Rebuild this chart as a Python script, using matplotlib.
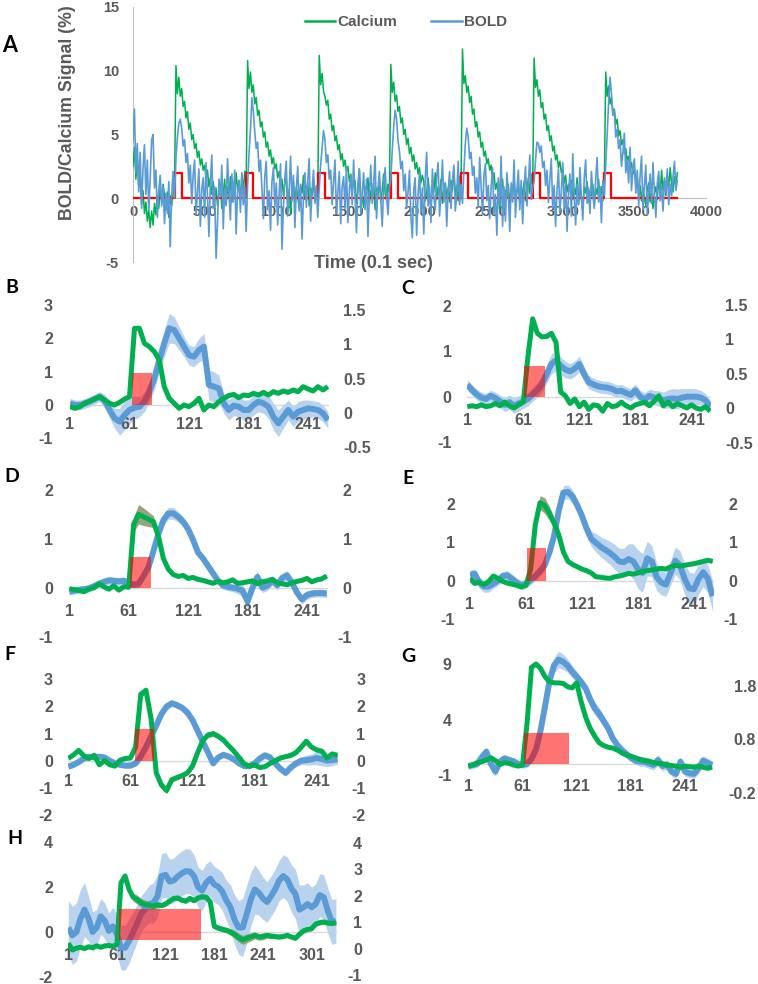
import numpy as np
import matplotlib
matplotlib.use("Agg")
import matplotlib.pyplot as plt
from matplotlib.patches import Rectangle
from matplotlib.lines import Line2D
from matplotlib.ticker import FuncFormatter

plt.rcParams['axes.unicode_minus'] = False
plt.rcParams['font.weight'] = 'bold'
ARIAL = ['Liberation Sans', 'DejaVu Sans']
LETTER = ['Lato', 'DejaVu Sans']
plt.rcParams['font.family'] = ARIAL

GREEN = '#00B050'
BLUE = '#5B9BD5'
BAND_BLUE = '#B9D3EE'
BAND_GREEN = '#8C9970'
RED = '#FF0000'
GRAY_TXT = '#595959'

# ---------------- Panel A data (sampled every 10 x 0.1 s) ----------------
a_time_step = 10
a_calcium = [
    2.5, 4.0, 1.5, 3.2, 0.8, 1.9, -0.5, 0.6, -1.2, -0.3,
    -1.8, -0.9, -2.3, -1.0, -2.1, -0.4, -1.3, 0.2, -0.8, 0.9,
    -0.2, 1.1, 0.3, -0.9, 0.5, -1.5, 0.2, -0.6, 0.4, 0.9,
    10.4, 8.2, 9.5, 8.0, 8.6, 7.2, 7.6, 6.3, 6.8, 5.4,
    5.9, 4.6, 5.0, 3.9, 4.3, 3.2, 3.7, 2.6, 3.1, 2.2,
    2.6, 1.5, 2.2, 0.9, 1.6, 0.3, 1.3, -0.2, 0.8, -0.6,
    0.4, 1.0, -0.8, 0.4, 1.5, -0.5, 0.9, 0.1, 1.7, -0.3,
    1.2, 0.4, 2.0, 0.6, 1.4, -0.2, 1.9, 0.5, 2.1, 1.0,
    10.8, 8.6, 9.9, 8.3, 8.9, 7.4, 7.9, 6.5, 6.9, 5.6,
    6.0, 4.8, 5.2, 4.0, 4.4, 3.3, 3.8, 2.7, 3.2, 2.3,
    2.7, 1.6, 2.1, 0.8, 1.5, 0.2, 1.2, 1.6, -0.5, 0.7,
    -1.2, 0.5, 1.3, -0.3, 0.9, 0.1, -0.8, 1.0, 0.4, 1.8,
    -0.1, 0.6, 1.2, -0.6, 0.8, 0.2, 1.5, -0.2, 0.9, 0.3,
    11.2, 8.9, 9.8, 8.4, 8.0, 7.3, 7.7, 6.2, 6.6, 5.3,
    5.7, 4.5, 4.9, 3.8, 4.2, 3.0, 3.5, 2.5, 3.0, 2.1,
    2.5, 1.3, 1.9, 0.6, 1.2, 1.4, -0.4, 0.5, 2.3, 0.1,
    0.1, -0.7, 0.9, 0.3, 1.6, -0.5, 0.6, 0.0, 1.2, -0.9,
    0.8, 0.2, 1.5, -0.3, 0.7, 1.9, 0.4, -0.2, 1.1, 0.5,
    10.5, 8.3, 9.1, 7.6, 8.1, 6.8, 7.2, 5.9, 6.3, 5.0,
    5.4, 4.2, 4.7, 3.5, 4.0, 2.9, 3.4, 2.3, 2.8, 1.9,
    2.4, 1.2, 1.8, 1.3, -0.2, 0.4, 1.6, 0.2, -0.6, 1.1,
    0.5, 2.0, -0.1, 0.9, 0.3, 1.5, -0.4, 0.7, 1.2, 0.1,
    0.8, -0.3, 1.4, 0.6, 2.2, 0.2, 1.0, -0.2, 1.7, 0.9,
    11.7, 9.0, 9.6, 8.3, 8.8, 7.5, 8.0, 6.6, 7.0, 5.6,
    6.0, 4.8, 5.2, 4.0, 4.4, 3.3, 3.7, 2.7, 3.1, 2.2,
    2.6, 1.4, 2.0, 0.7, 1.2, 0.1, -0.9, 0.7, 1.5, -0.3,
    0.6, 0.0, 1.1, -0.5, 0.8, 0.3, 1.7, -0.1, 0.5, 1.0,
    -0.4, 0.9, 0.2, 1.3, -0.2, 0.7, 1.6, 0.4, 1.9, 0.8,
    11.0, 8.7, 9.3, 8.0, 8.5, 7.1, 7.5, 6.2, 6.6, 5.3,
    5.7, 4.5, 4.9, 3.7, 4.1, 3.0, 3.4, 2.4, 2.9, 2.0,
    2.4, 1.2, 1.8, 0.5, 1.1, 0.6, 1.4, -0.1, 0.8, 0.3,
    1.6, -0.5, 0.7, 0.1, -0.9, 0.9, 0.4, 1.3, -0.3, 0.6,
    0.2, 1.1, -0.6, 0.8, 0.3, 1.5, 0.0, 0.9, -0.2, 1.0,
    9.9, 8.0, 8.8, 7.4, 7.9, 6.6, 7.0, 5.8, 6.2, 4.9,
    5.3, 4.2, 4.6, 3.5, 3.9, 2.9, 3.3, 2.3, 2.8, 1.9,
    2.3, 1.1, 1.7, 0.4, 1.0, -0.2, 0.8, 0.1, -0.6, 0.7,
    1.2, -0.3, 0.5, -0.8, 0.4, 0.9, -0.1, 1.5, 0.3, 2.2,
    0.6, 1.4, 0.2, 1.8, 0.9, 2.4, 1.1, 0.5, 1.7, 1.0,
    2.0,
]
a_bold = [
    4.5, 7.0, 2.0, 4.3, 0.5, 3.6, -0.8, 2.4, 4.2, 0.3,
    3.0, -1.0, 1.5, 4.6, 5.0, 0.8, 2.2, -1.5, 0.6, 1.8,
    -0.6, 0.9, -2.0, 0.4, -1.2, 1.3, -3.8, 0.2, 2.1, 0.0,
    3.2, 4.8, 5.9, 6.2, 5.5, 4.1, 4.6, 2.8, 3.5, 1.2,
    2.6, -0.4, 1.8, 3.0, -1.3, 0.5, 2.3, -2.2, 0.7, 1.6,
    -1.5, 2.8, 0.2, -3.0, 1.2, 3.4, -0.8, 0.9, -4.7, -1.9,
    1.5, 0.1, 2.6, -2.4, 0.8, -0.6, 3.1, 0.4, -1.7, 1.9,
    -0.3, 2.2, -2.8, 0.5, 1.4, -1.1, 2.0, -0.5, 0.9, -2.6,
    1.0, 3.5, 5.4, 7.9, 6.8, 5.2, 3.9, 4.4, 2.1, 3.0,
    0.8, -1.6, 1.7, 2.9, -0.9, 0.6, -2.5, 1.3, 2.4, -0.7,
    1.2, -2.1, 0.3, 2.7, -4.0, -0.8, 1.6, 2.9, -1.4, 0.5,
    3.3, -0.2, 1.8, -2.3, 0.7, 2.5, -1.0, 1.1, -3.2, 0.2,
    2.0, -0.7, 1.4, 3.1, -1.8, 0.6, 2.2, -0.4, 1.0, -1.5,
    0.8, 2.6, 3.9, 5.3, 4.6, 2.8, 3.4, 1.5, 2.2, -0.5,
    1.3, 3.0, -1.2, 0.4, 2.1, -2.0, 0.9, 1.7, -0.8, 2.4,
    -1.9, 0.6, 1.8, -0.5, 3.0, 0.2, -2.7, 1.1, 2.3, -1.2,
    0.4, 2.0, -0.9, 1.5, -3.0, 0.3, 2.6, -0.4, 1.2, 3.3,
    -1.6, 0.7, 2.1, -0.2, -2.2, 1.0, 2.4, 0.1, -1.3, 0.8,
    1.5, 3.8, 5.6, 6.9, 6.2, 4.5, 3.7, 2.3, 2.9, 0.6,
    1.9, -0.8, 0.5, 2.2, -1.5, -3.1, 0.7, 1.6, -2.9, 0.3,
    2.0, -1.1, 0.8, -2.8, 1.5, 3.6, -0.6, 0.9, -1.9, 2.3,
    0.1, -0.9, 1.7, 2.8, -1.4, 0.5, 3.0, -0.3, 1.2, -2.2,
    0.6, 2.1, -0.8, 1.4, 2.6, -1.0, 0.3, 2.9, -0.5, 1.1,
    -0.4, 2.2, 4.3, 5.5, 4.8, 3.1, 3.6, 1.8, 2.5, 0.4,
    1.6, -0.7, 3.2, 0.9, -1.3, 1.8, 2.7, -0.2, 1.0, -1.6,
    0.8, 2.4, -1.2, 0.3, -2.9, 1.6, -0.5, 3.3, -2.2, 0.9,
    -1.8, 2.0, 0.4, -2.6, 1.2, -0.3, 3.0, -1.5, 0.6, 2.2,
    -0.9, 1.4, -2.0, 0.7, 2.5, -0.6, 1.1, 3.4, -0.1, 0.9,
    1.3, 3.0, 4.4, 4.3, 3.6, 4.1, 2.4, 2.9, 1.0, 2.2,
    -0.3, 1.5, 3.1, -0.8, 1.0, -2.2, 0.6, 2.3, -1.1, 0.5,
    2.8, -0.9, 1.3, -2.6, 0.4, 1.9, -1.4, 3.5, 0.2, -2.1,
    1.1, -0.5, 2.4, 0.1, -1.7, 1.6, 3.0, -0.4, 0.8, -1.2,
    2.1, 0.3, -0.8, 1.5, 3.2, -0.3, 0.9, -1.9, 1.4, 0.2,
    2.6, 5.0, 7.4, 9.5, 8.2, 6.5, 6.9, 4.8, 5.4, 3.9,
    4.6, 2.5, 3.6, 5.1, 2.0, 3.0, 1.2, 4.0, 0.6, 2.4,
    3.1, 0.4, 2.2, -0.6, 1.8, 3.3, -0.9, 1.0, 2.6, -1.3,
    0.5, 1.9, -0.4, 2.8, 0.3, -1.5, 1.2, 2.1, -0.2, 0.9,
    -1.0, 1.6, 0.4, 2.3, -0.5, 1.1, 0.2, 1.7, 2.9, 0.6,
    1.4,
]
a_stim_onsets = [290, 790, 1290, 1800, 2290, 2790, 3290]
a_stim_duration = 50
a_stim_height = 2
a_stim_end = 3800
a_xticks = [0, 500, 1000, 1500, 2000, 2500, 3000, 3500, 4000]
a_yticks = [-5, 0, 5, 10, 15]
a_legend_labels = ['Calcium', 'BOLD']

# ---------------- Panels B-H data (sampled every 5 frames from frame 1) ----------------
first_sample = 1
sample_step = 5

b_calcium = [-0.05, -0.1, -0.05, 0.05, 0.12, 0.18, 0.25, 0.15, 0.05, 0.0,
             0.08, 0.18, 0.25, 2.3, 2.3, 1.85, 1.75, 1.6, 1.35, 0.55,
             0.2, 0.05, -0.1, 0.0, -0.05, 0.05, 0.2, -0.15, 0.0, -0.05,
             0.1, 0.2, 0.28, 0.32, 0.22, 0.3, 0.28, 0.35, 0.3, 0.38,
             0.3, 0.4, 0.35, 0.42, 0.38, 0.45, 0.4, 0.55, 0.48, 0.42,
             0.55, 0.45, 0.55]
b_bold = [0.05, 0.0, 0.0, 0.05, 0.1, 0.18, 0.25, 0.12, -0.15, -0.4,
          -0.5, -0.3, -0.15, -0.08, -0.05, 0.1, 0.4, 0.8, 1.35, 1.85,
          2.3, 2.25, 2.0, 1.75, 1.5, 1.45, 1.65, 1.75, 0.6, 0.55,
          0.5, 0.05, -0.15, -0.02, -0.05, -0.15, -0.15, 0.0, 0.1, 0.05,
          -0.05, -0.35, -0.55, -0.35, -0.15, -0.35, -0.2, -0.15, -0.1, -0.12,
          -0.15, -0.25, -0.45]
b_bold_sem = [0.15, 0.15, 0.15, 0.15, 0.15, 0.15, 0.15, 0.2, 0.25, 0.3,
              0.4, 0.45, 0.4, 0.35, 0.3, 0.3, 0.3, 0.35, 0.35, 0.4,
              0.45, 0.4, 0.35, 0.3, 0.3, 0.3, 0.35, 0.4, 0.45, 0.45,
              0.4, 0.3, 0.3, 0.3, 0.3, 0.3, 0.3, 0.3, 0.3, 0.3,
              0.35, 0.4, 0.4, 0.35, 0.3, 0.3, 0.3, 0.3, 0.25, 0.25,
              0.25, 0.25, 0.25]
b_calcium_sem = None
b_stim = (63, 84, 0, 0.95)
b_left_ticks = [-1, 0, 1, 2, 3]
b_right_ticks = [-0.5, 0, 0.5, 1, 1.5]

c_calcium = [-0.22, -0.2, -0.22, -0.18, -0.22, -0.2, -0.15, -0.2, -0.12, -0.2,
             -0.25, -0.18, -0.12, 0.9, 1.72, 1.4, 1.32, 1.33, 1.4, 1.2,
             0.1, 0.02, -0.15, -0.05, -0.22, -0.12, -0.28, -0.18, -0.2, -0.32,
             -0.15, -0.22, -0.2, -0.12, -0.2, -0.25, -0.18, -0.15, -0.12, -0.2,
             -0.1, 0.02, -0.2, -0.12, -0.22, -0.15, -0.2, -0.25, -0.18, -0.25,
             -0.28, -0.22, -0.32]
c_bold = [0.26, 0.15, 0.05, -0.02, -0.05, 0.02, -0.03, -0.1, -0.18, -0.12,
          -0.2, -0.15, -0.1, -0.05, 0.05, 0.15, 0.28, 0.5, 0.72, 0.8,
          0.68, 0.6, 0.56, 0.62, 0.72, 0.5, 0.32, 0.27, 0.23, 0.21,
          0.2, 0.17, 0.12, 0.13, 0.08, 0.04, 0.14, 0.0, -0.06, 0.02,
          -0.02, -0.04, -0.08, -0.05, -0.04, -0.05, -0.02, 0.0, 0.0, 0.0,
          -0.02, -0.08, -0.22]
c_bold_sem = [0.12, 0.12, 0.12, 0.12, 0.12, 0.12, 0.13, 0.14, 0.15, 0.16,
              0.17, 0.17, 0.16, 0.15, 0.15, 0.16, 0.18, 0.2, 0.22, 0.22,
              0.2, 0.18, 0.17, 0.17, 0.17, 0.16, 0.15, 0.14, 0.14, 0.14,
              0.14, 0.14, 0.14, 0.14, 0.14, 0.14, 0.14, 0.14, 0.15, 0.15,
              0.16, 0.17, 0.18, 0.2, 0.22, 0.22, 0.2, 0.18, 0.18, 0.17,
              0.16, 0.15, 0.15]
c_calcium_sem = None
c_stim = (62, 84, 0, 0.67)
c_left_ticks = [-1, 0, 1, 2]
c_right_ticks = [-0.5, 0, 0.5, 1, 1.5]

d_calcium = [-0.02, -0.04, -0.06, -0.08, -0.03, 0.0, 0.08, 0.02, -0.03, 0.04,
             -0.05, 0.02, 0.01, 1.3, 1.5, 1.45, 1.4, 1.35, 1.05, 0.6,
             0.38, 0.27, 0.23, 0.25, 0.19, 0.21, 0.17, 0.15, 0.12, 0.09,
             0.13, 0.1, 0.12, 0.16, 0.09, 0.1, 0.12, 0.14, 0.08, 0.12,
             0.14, 0.17, 0.1, 0.08, 0.06, 0.1, 0.13, 0.15, 0.19, 0.12,
             0.16, 0.18, 0.24]
d_calcium_sem = [0.03, 0.03, 0.03, 0.03, 0.03, 0.03, 0.03, 0.03, 0.03, 0.03,
                 0.03, 0.03, 0.03, 0.15, 0.2, 0.18, 0.15, 0.12, 0.08, 0.05,
                 0.03, 0.03, 0.03, 0.03, 0.03, 0.03, 0.03, 0.03, 0.03, 0.03,
                 0.03, 0.03, 0.03, 0.03, 0.03, 0.03, 0.03, 0.03, 0.03, 0.03,
                 0.03, 0.03, 0.03, 0.03, 0.03, 0.03, 0.03, 0.03, 0.03, 0.03,
                 0.03, 0.03, 0.03]
d_bold = [-0.08, -0.06, -0.04, -0.03, -0.01, 0.03, 0.08, 0.12, 0.15, 0.14,
          0.13, 0.14, 0.1, 0.06, 0.08, 0.24, 0.42, 0.75, 1.1, 1.38,
          1.52, 1.52, 1.45, 1.35, 1.2, 0.98, 0.72, 0.6, 0.45, 0.3,
          0.15, 0.05, 0.02, 0.0, -0.02, -0.06, -0.28, 0.0, 0.22, 0.0,
          0.04, 0.15, 0.05, 0.2, 0.25, 0.1, -0.1, -0.24, -0.15, -0.12,
          -0.11, -0.11, -0.12]
d_bold_sem = [0.07, 0.07, 0.07, 0.07, 0.07, 0.07, 0.07, 0.08, 0.08, 0.08,
              0.08, 0.08, 0.08, 0.08, 0.08, 0.08, 0.09, 0.1, 0.1, 0.11,
              0.12, 0.12, 0.11, 0.1, 0.1, 0.1, 0.09, 0.09, 0.09, 0.08,
              0.08, 0.08, 0.08, 0.08, 0.1, 0.12, 0.15, 0.15, 0.12, 0.1,
              0.1, 0.1, 0.1, 0.1, 0.1, 0.1, 0.1, 0.1, 0.09, 0.08,
              0.08, 0.08, 0.08]
d_stim = (62, 84, 0, 0.63)
d_left_ticks = [-1, 0, 1, 2]
d_right_ticks = [-1, 0, 1, 2]

e_calcium = [0.06, -0.07, -0.04, -0.1, -0.02, 0.12, 0.06, -0.02, -0.06, -0.09,
             -0.12, -0.16, -0.12, 0.3, 1.45, 2.02, 1.95, 1.75, 1.5, 1.2,
             0.75, 0.5, 0.42, 0.36, 0.3, 0.26, 0.2, 0.1, 0.09, 0.07,
             0.06, 0.1, 0.12, 0.15, 0.19, 0.17, 0.2, 0.24, 0.26, 0.28,
             0.3, 0.32, 0.3, 0.36, 0.4, 0.38, 0.4, 0.42, 0.44, 0.47,
             0.5, 0.53, 0.5]
e_calcium_sem = [0.03, 0.03, 0.03, 0.03, 0.03, 0.03, 0.03, 0.03, 0.03, 0.03,
                 0.03, 0.03, 0.03, 0.05, 0.08, 0.18, 0.2, 0.18, 0.14, 0.08,
                 0.05, 0.03, 0.03, 0.03, 0.03, 0.03, 0.03, 0.03, 0.03, 0.03,
                 0.03, 0.03, 0.03, 0.03, 0.03, 0.03, 0.03, 0.03, 0.03, 0.03,
                 0.03, 0.03, 0.03, 0.03, 0.03, 0.03, 0.03, 0.03, 0.03, 0.03,
                 0.03, 0.03, 0.03]
e_bold = [0.15, 0.18, -0.05, -0.15, -0.15, -0.08, 0.0, 0.12, 0.14, 0.05,
          -0.05, -0.12, -0.08, 0.02, 0.12, 0.25, 0.4, 0.72, 1.15, 1.8,
          2.28, 2.3, 2.18, 1.95, 1.68, 1.35, 1.08, 0.98, 0.88, 0.8,
          0.72, 0.62, 0.5, 0.48, 0.56, 0.5, 0.3, 0.2, 0.58, 0.5,
          0.1, -0.05, -0.1, 0.2, 0.52, 0.4, 0.05, -0.2, -0.22, 0.05,
          0.22, 0.05, -0.4]
e_bold_sem = [0.12, 0.12, 0.15, 0.15, 0.15, 0.12, 0.12, 0.12, 0.12, 0.12,
              0.12, 0.12, 0.12, 0.12, 0.12, 0.13, 0.14, 0.15, 0.15, 0.16,
              0.18, 0.18, 0.17, 0.16, 0.15, 0.15, 0.2, 0.24, 0.26, 0.28,
              0.3, 0.32, 0.34, 0.36, 0.4, 0.45, 0.5, 0.5, 0.45, 0.4,
              0.35, 0.32, 0.3, 0.32, 0.35, 0.38, 0.4, 0.42, 0.42, 0.4,
              0.38, 0.36, 0.4]
e_stim = (62, 82, 0, 0.84)
e_left_ticks = [-1, 0, 1, 2]
e_right_ticks = [-1, 0, 1, 2]

f_calcium = [0.09, 0.21, 0.38, 0.18, 0.08, 0.2, -0.15, 0.0, -0.15, -0.2,
             0.02, 0.08, 0.1, 0.5, 2.45, 2.6, 1.55, -0.45, -0.9, -1.1,
             -0.7, -0.62, -0.55, -0.45, -0.2, 0.3, 0.75, 0.95, 1.0, 0.9,
             0.76, 0.55, 0.35, 0.12, -0.12, -0.2, -0.16, -0.25, -0.22, -0.1,
             0.0, 0.1, 0.15, 0.2, 0.3, 0.5, 0.72, 0.5, 0.4, 0.35,
             0.1, 0.25, 0.2]
f_calcium_sem = [0.06, 0.06, 0.06, 0.06, 0.06, 0.06, 0.06, 0.06, 0.06, 0.06,
                 0.06, 0.06, 0.06, 0.08, 0.12, 0.12, 0.1, 0.1, 0.12, 0.12,
                 0.1, 0.08, 0.08, 0.08, 0.08, 0.08, 0.08, 0.1, 0.1, 0.1,
                 0.08, 0.08, 0.06, 0.06, 0.06, 0.06, 0.06, 0.06, 0.06, 0.06,
                 0.06, 0.06, 0.06, 0.08, 0.08, 0.1, 0.1, 0.08, 0.08, 0.06,
                 0.06, 0.06, 0.06]
f_bold = [-0.22, -0.15, -0.05, 0.08, 0.15, 0.13, 0.15, 0.12, 0.0, -0.1,
          -0.15, -0.18, -0.18, -0.1, 0.15, 0.5, 0.9, 1.3, 1.72, 2.0,
          2.12, 2.05, 1.95, 1.78, 1.5, 1.1, 0.7, 0.3, -0.1, 0.12,
          0.22, 0.15, 0.05, -0.1, -0.2, -0.2, -0.1, 0.08, 0.2, 0.12,
          -0.1, -0.3, -0.45, -0.25, -0.1, 0.0, 0.02, 0.05, 0.1, 0.06,
          0.0, 0.02, 0.05]
f_bold_sem = [0.1, 0.1, 0.1, 0.1, 0.1, 0.1, 0.1, 0.1, 0.1, 0.1,
              0.1, 0.1, 0.1, 0.1, 0.1, 0.1, 0.1, 0.1, 0.12, 0.12,
              0.12, 0.12, 0.12, 0.1, 0.1, 0.1, 0.1, 0.1, 0.1, 0.1,
              0.1, 0.1, 0.1, 0.1, 0.1, 0.1, 0.1, 0.12, 0.12, 0.12,
              0.12, 0.12, 0.12, 0.12, 0.12, 0.15, 0.18, 0.2, 0.25, 0.25,
              0.22, 0.2, 0.18]
f_stim = (65, 84, 0, 1.16)
f_left_ticks = [-2, -1, 0, 1, 2, 3]
f_right_ticks = [-2, -1, 0, 1, 2, 3]

g_calcium = [-0.2, -0.1, 0.1, 0.2, 0.35, 0.55, 0.3, -0.05, 0.1, 0.05,
             -0.1, -0.2, -0.1, 3.6, 8.7, 9.0, 8.6, 7.85, 7.4, 7.3,
             7.3, 7.25, 6.95, 6.85, 7.3, 5.6, 4.2, 3.2, 2.5, 1.9,
             1.65, 1.5, 1.42, 1.25, 1.0, 0.8, 0.7, 0.55, 0.42, 0.3,
             0.25, 0.12, 0.05, 0.0, -0.1, -0.15, -0.2, -0.3, -0.2, -0.25,
             -0.3, -0.2, -0.3, -0.4, -0.3]
g_calcium_sem = None
g_bold = [-0.2, -0.1, 0.0, 0.6, 1.1, 0.0, -0.7, 0.2, 0.5, 0.35,
          0.25, 0.0, -0.1, 0.0, 0.45, 1.3, 3.0, 5.2, 7.5, 8.9,
          9.4, 9.2, 8.85, 8.3, 7.85, 7.35, 6.8, 5.8, 5.0, 4.5,
          3.85, 3.2, 2.3, 1.7, 1.25, 0.9, 0.55, 0.3, 0.2, 0.2,
          0.05, -0.1, 0.35, -0.2, -0.05, -0.7, -0.9, 0.2, -0.7, -0.85,
          -0.9, -0.4, 0.3, 0.1, -0.1]
g_bold_sem = [0.3, 0.3, 0.3, 0.35, 0.4, 0.4, 0.4, 0.35, 0.35, 0.35,
              0.3, 0.3, 0.3, 0.3, 0.3, 0.35, 0.4, 0.5, 0.6, 0.7,
              0.75, 0.7, 0.6, 0.55, 0.5, 0.5, 0.5, 0.55, 0.6, 0.55,
              0.5, 0.45, 0.4, 0.4, 0.35, 0.35, 0.35, 0.35, 0.4, 0.45,
              0.45, 0.45, 0.5, 0.45, 0.4, 0.4, 0.4, 0.4, 0.4, 0.4,
              0.4, 0.45, 0.45, 0.4, 0.35]
g_stim = (63, 112, 0, 2.75)
g_left_ticks = [-1, 4, 9]
g_right_ticks = [-0.2, 0.8, 1.8]

h_calcium = [-0.5, -0.8, -0.72, -0.68, -0.74, -0.66, -0.7, -0.62, -0.68, -0.62,
             -0.6, -0.64, -0.55, 2.2, 2.5, 1.9, 1.55, 1.45, 1.3, 1.22,
             1.2, 1.15, 1.22, 1.18, 1.25, 1.38, 1.5, 1.52, 1.42, 1.38,
             1.5, 1.4, 1.52, 1.58, 1.55, 1.35, 0.25, 0.18, 0.12, 0.08,
             0.0, -0.1, -0.25, -0.35, -0.28, -0.22, -0.15, -0.22, -0.2, -0.15,
             -0.18, -0.2, -0.22, -0.2, -0.15, -0.22, -0.28, -0.1, 0.05, 0.12,
             0.15, 0.35, 0.42, 0.45, 0.4, 0.38, 0.42]
h_calcium_sem = [0.08, 0.08, 0.08, 0.08, 0.08, 0.08, 0.08, 0.08, 0.08, 0.08,
                 0.08, 0.08, 0.08, 0.1, 0.12, 0.15, 0.18, 0.2, 0.2, 0.2,
                 0.18, 0.15, 0.12, 0.1, 0.1, 0.1, 0.1, 0.1, 0.1, 0.1,
                 0.1, 0.1, 0.1, 0.1, 0.1, 0.1, 0.12, 0.12, 0.12, 0.12,
                 0.15, 0.18, 0.2, 0.2, 0.2, 0.18, 0.15, 0.15, 0.15, 0.12,
                 0.12, 0.1, 0.1, 0.1, 0.1, 0.1, 0.1, 0.1, 0.1, 0.1,
                 0.1, 0.1, 0.1, 0.1, 0.1, 0.1, 0.1]
h_bold = [0.2, -0.15, 0.0, 0.6, 1.0, 0.6, 0.0, 0.2, 0.7, 0.5,
          0.05, 0.25, -0.1, -0.7, -0.7, -0.4, 0.0, 0.4, 0.82, 1.05,
          1.25, 1.3, 1.6, 2.5, 2.55, 2.25, 2.3, 2.48, 2.62, 2.72,
          2.7, 2.5, 2.0, 1.85, 2.2, 2.38, 2.12, 2.02, 1.8, 1.4,
          1.1, 0.55, 0.2, 0.2, 0.8, 1.45, 1.9, 1.75, 1.5, 1.34,
          1.6, 1.9, 2.3, 2.5, 2.35, 1.95, 1.7, 1.0, 1.1, 1.25,
          1.1, 1.25, 1.65, 1.55, 0.95, 0.45, 0.5]
h_bold_sem = [1.2, 1.3, 1.3, 1.3, 1.2, 1.0, 0.9, 0.8, 0.8, 0.8,
              0.8, 0.85, 0.9, 1.0, 1.0, 1.0, 0.9, 0.85, 0.8, 0.8,
              0.85, 0.9, 0.95, 1.0, 1.0, 1.0, 1.0, 1.0, 1.0, 1.0,
              1.0, 0.95, 0.9, 0.9, 0.85, 0.8, 0.8, 0.8, 0.85, 0.9,
              1.0, 1.1, 1.2, 1.3, 1.3, 1.2, 1.1, 1.0, 0.95, 0.9,
              0.9, 0.9, 0.9, 0.95, 1.0, 1.05, 1.1, 1.1, 1.0, 0.95,
              0.9, 0.9, 0.95, 1.0, 1.0, 1.0, 1.0]
h_stim = (63, 165, -0.34, 1.04)
h_left_ticks = [-2, 0, 2, 4]
h_right_ticks = [-1, 0, 1, 2, 3, 4]

panel_xticks = [1, 61, 121, 181, 241]
h_xticks = [1, 61, 121, 181, 241, 301]

# ---------------- layout (pixels of the 758 x 984 canvas) ----------------
W, H = 758, 984
PT = 72.0 / 100.0

fig = plt.figure(figsize=(W / 100, H / 100), dpi=100)
fig.patch.set_facecolor('white')


def frect(left, right, top, bottom):
    return [left / W, 1 - bottom / H, (right - left) / W, (bottom - top) / H]


def fmt_g(v, pos=None):
    v = round(v, 3) + 0.0
    return f'{v:g}'


# ---------------- Panel A ----------------
axA = fig.add_axes(frect(133, 706, 7, 262))
tA = np.arange(len(a_calcium)) * a_time_step
stim_x = [0]
stim_y = [0]
for on in a_stim_onsets:
    stim_x += [on, on, on + a_stim_duration, on + a_stim_duration]
    stim_y += [0, a_stim_height, a_stim_height, 0]
stim_x.append(a_stim_end)
stim_y.append(0)

axA.plot(tA, a_calcium, color=GREEN, lw=1.1, zorder=3)
axA.plot(stim_x, stim_y, color=RED, lw=1.6, zorder=4)
axA.plot(tA, a_bold, color=BLUE, lw=1.2, zorder=5)
axA.set_xlim(0, 4000)
axA.set_ylim(-5, 15)
for s in ['top', 'right']:
    axA.spines[s].set_visible(False)
axA.spines['left'].set_color('#BFBFBF')
axA.spines['left'].set_linewidth(0.8)
axA.spines['bottom'].set_position(('data', 0))
axA.spines['bottom'].set_color('#BFBFBF')
axA.spines['bottom'].set_linewidth(0.8)
axA.set_xticks(a_xticks)
axA.set_yticks(a_yticks)
axA.tick_params(length=0, labelsize=10.5, labelcolor=GRAY_TXT)
axA.tick_params(axis='x', pad=7 * PT)
axA.tick_params(axis='y', pad=14 * PT)
axA.set_facecolor('none')

fig.text(373 / W, 1 - 264 / H, 'Time (0.1 sec)', ha='center', va='center',
         fontsize=13, color=GRAY_TXT, fontweight='bold')
fig.text(67 / W, 1 - 113 / H, 'BOLD/Calcium Signal (%)', ha='center', va='center',
         rotation=90, fontsize=12.8, color=GRAY_TXT, fontweight='bold')
handles = [Line2D([], [], color=GREEN, lw=1.8), Line2D([], [], color=BLUE, lw=1.8)]
leg = fig.legend(handles, a_legend_labels, loc='center', bbox_to_anchor=(406 / W, 1 - 22 / H),
                 ncol=2, frameon=False, handlelength=2.0, handletextpad=0.15, columnspacing=2.2,
                 prop={'size': 11, 'weight': 'bold'})
for t in leg.get_texts():
    t.set_color(GRAY_TXT)

# ---------------- Panels B-H ----------------
# rmap: left-axis value = a + b * right-axis value; ralign: right tick label alignment
panels = [
    dict(name='B', calcium=b_calcium, calcium_sem=b_calcium_sem, bold=b_bold, bold_sem=b_bold_sem,
         stim=b_stim, lticks=b_left_ticks, rticks=b_right_ticks, xticks=panel_xticks,
         x1=70, sx=0.992, zero=405, sy=33.33, xend=262, ylim=(-1.3, 3.1),
         rmap=(-0.231, 2.049), lpad=17, rpad=14, ralign='left', xpad=18, letter=(12, 287)),
    dict(name='C', calcium=c_calcium, calcium_sem=c_calcium_sem, bold=c_bold, bold_sem=c_bold_sem,
         stim=c_stim, lticks=c_left_ticks, rticks=c_right_ticks, xticks=panel_xticks,
         x1=467.3, sx=0.934, zero=396.7, sy=45.3, xend=262, ylim=(-1.1, 2.1),
         rmap=(-0.256, 1.519), lpad=15.6, rpad=14, ralign='left', xpad=21.6, letter=(408, 289)),
    dict(name='D', calcium=d_calcium, calcium_sem=d_calcium_sem, bold=d_bold, bold_sem=d_bold_sem,
         stim=d_stim, lticks=d_left_ticks, rticks=d_right_ticks, xticks=panel_xticks,
         x1=69.3, sx=0.99, zero=587.7, sy=48.9, xend=262, ylim=(-1.1, 2.1),
         rmap=(0.0, 1.0), lpad=16.3, rpad=24, ralign='right', xpad=21.6, letter=(12, 477)),
    dict(name='E', calcium=e_calcium, calcium_sem=e_calcium_sem, bold=e_bold, bold_sem=e_bold_sem,
         stim=e_stim, lticks=e_left_ticks, rticks=e_right_ticks, xticks=panel_xticks,
         x1=470, sx=0.933, zero=580.7, sy=38.6, xend=262, ylim=(-1.1, 2.6),
         rmap=(0.0, 1.0), lpad=15, rpad=24, ralign='right', xpad=22, letter=(408, 479)),
    dict(name='F', calcium=f_calcium, calcium_sem=f_calcium_sem, bold=f_bold, bold_sem=f_bold_sem,
         stim=f_stim, lticks=f_left_ticks, rticks=f_right_ticks, xticks=panel_xticks,
         x1=68.3, sx=1.035, zero=760.7, sy=27.1, xend=262, ylim=(-2.1, 3.1),
         rmap=(0.0, 1.0), lpad=15.3, rpad=27, ralign='right', xpad=19.3, letter=(10, 655)),
    dict(name='G', calcium=g_calcium, calcium_sem=g_calcium_sem, bold=g_bold, bold_sem=g_bold_sem,
         stim=g_stim, lticks=g_left_ticks, rticks=g_right_ticks, xticks=panel_xticks,
         x1=468.3, sx=0.903, zero=763.9, sy=11.1, xend=272, ylim=(-2.8, 10.2),
         rmap=(-1.64, 4.8), lpad=16.6, rpad=43, ralign='right', xpad=21, letter=(408, 656)),
    dict(name='H', calcium=h_calcium, calcium_sem=h_calcium_sem, bold=h_bold, bold_sem=h_bold_sem,
         stim=h_stim, lticks=h_left_ticks, rticks=h_right_ticks, xticks=h_xticks,
         x1=68.3, sx=0.811, zero=932, sy=22.4, xend=332, ylim=(-2.1, 4.2),
         rmap=(-0.744, 1.1815), lpad=15.3, rpad=25.5, ralign='right', xpad=21.7, letter=(15, 838)),
]

TICK_SIZE = 11.5
DIGIT_HALF = 5.7  # px from label top to digit centre

for p in panels:
    ylo, yhi = p['ylim']
    left = p['x1']
    right = p['x1'] + (p['xend'] - 1) * p['sx']
    top = p['zero'] - yhi * p['sy']
    bottom = p['zero'] - ylo * p['sy']
    ax = fig.add_axes(frect(left, right, top, bottom))
    ax.set_xlim(1, p['xend'])
    ax.set_ylim(ylo, yhi)
    ax.set_facecolor('none')
    ax.set_axisbelow(False)  # tick labels above the bands, below the thick lines

    n = min(len(p['bold']), len(p['bold_sem']), len(p['calcium']))
    x = first_sample + sample_step * np.arange(n)
    bold = np.asarray(p['bold'][:n])
    bsem = np.asarray(p['bold_sem'][:n])
    cal = np.asarray(p['calcium'][:n])

    ax.axhline(0, color='#D9D9D9', lw=1.0, zorder=1)
    ax.fill_between(x, bold - bsem, bold + bsem, color=BAND_BLUE, lw=0, zorder=2)
    if p['calcium_sem'] is not None:
        csem = np.asarray(p['calcium_sem'][:n])
        ax.fill_between(x, cal - csem, cal + csem, color=BAND_GREEN, alpha=0.9, lw=0, zorder=3.5)
    ax.plot(x, bold, color=BLUE, lw=4.3, zorder=4, solid_joinstyle='round', solid_capstyle='butt')
    ax.plot(x, cal, color=GREEN, lw=3.6, zorder=5, solid_joinstyle='round', solid_capstyle='butt')
    s0, s1, slo, shi = p['stim']
    ax.add_patch(Rectangle((s0, slo), s1 - s0, shi - slo, facecolor=RED, alpha=0.55, lw=0, zorder=6))

    for s in ['top', 'right', 'left']:
        ax.spines[s].set_visible(False)
    ax.spines['bottom'].set_position(('data', 0))
    ax.spines['bottom'].set_visible(False)
    ax.set_xticks(p['xticks'])
    ax.set_yticks(p['lticks'])
    ax.yaxis.set_major_formatter(FuncFormatter(fmt_g))
    ax.tick_params(length=0, labelsize=TICK_SIZE, labelcolor=GRAY_TXT)
    ax.tick_params(axis='x', pad=(p['xpad'] - DIGIT_HALF) * PT)
    ax.tick_params(axis='y', pad=p['lpad'] * PT)

    a, b = p['rmap']
    sec = ax.secondary_yaxis('right', functions=(lambda l, a=a, b=b: (l - a) / b,
                                                 lambda r, a=a, b=b: a + b * r))
    sec.set_yticks(p['rticks'])
    sec.yaxis.set_major_formatter(FuncFormatter(fmt_g))
    sec.tick_params(length=0, labelsize=TICK_SIZE, labelcolor=GRAY_TXT, pad=p['rpad'] * PT)
    for lbl in sec.get_yticklabels():
        lbl.set_horizontalalignment(p['ralign'])
    sec.spines['right'].set_visible(False)

    lx, ly = p['letter']
    fig.text(lx / W, 1 - ly / H, p['name'], ha='center', va='center', fontsize=14,
             family=LETTER, fontweight='bold', color='black')

fig.text(10 / W, 1 - 46 / H, 'A', ha='center', va='center', fontsize=15.5,
         family=LETTER, fontweight='bold', color='black')

fig.savefig('out.png', dpi=100, facecolor='white')
